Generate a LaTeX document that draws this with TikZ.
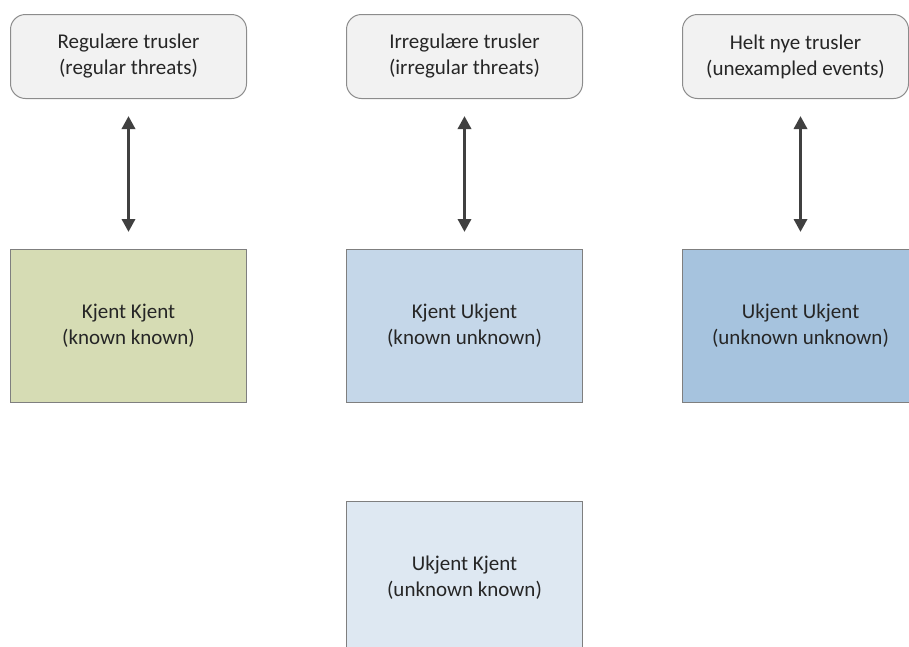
\documentclass[tikz,border=0pt]{standalone}
\usepackage{fontspec}
\setmainfont{Carlito}
\usetikzlibrary{arrows.meta}

\definecolor{threatfill}{HTML}{F2F2F2}
\definecolor{threatline}{HTML}{8C8C8C}
\definecolor{boxline}{HTML}{7F7F7F}
\definecolor{kkfill}{HTML}{D6DCB4}
\definecolor{kufill}{HTML}{C5D7E9}
\definecolor{uufill}{HTML}{A6C3DE}
\definecolor{ukfill}{HTML}{DEE8F2}
\definecolor{arrowgray}{HTML}{404040}

\tikzset{
  threat/.style={draw=threatline, fill=threatfill, line width=1pt,
    rounded corners=15pt, anchor=north west, inner sep=0pt,
    align=center, font=\fontsize{21}{26}\selectfont, text=black!85},
  field/.style={draw=boxline, line width=1pt, anchor=north west,
    inner sep=0pt, minimum width=236pt, minimum height=153pt,
    align=center, font=\fontsize{21}{26}\selectfont, text=black!85},
  link/.style={draw=arrowgray, line width=3.5pt,
    {Triangle[width=13pt,length=13pt]}-{Triangle[width=13pt,length=13pt]}}
}

\begin{document}
\begin{tikzpicture}[x=1pt, y=-1pt]
  \useasboundingbox (0,0) rectangle (909,646);
  \clip (0,0) rectangle (909,646);

  % threat categories
  \node[threat, minimum width=236pt, minimum height=84pt] (t1) at (10,14)
    {Regulære trusler\\(regular threats)};
  \node[threat, minimum width=236pt, minimum height=84pt] (t2) at (346,14)
    {Irregulære trusler\\(irregular threats)};
  \node[threat, minimum width=226pt, minimum height=84pt] (t3) at (682,14)
    {Helt nye trusler\\(unexampled events)};

  % knowledge fields
  \node[field, fill=kkfill] (m1) at (10,249) {Kjent Kjent\\(known known)};
  \node[field, fill=kufill] (m2) at (346,249) {Kjent Ukjent\\(known unknown)};
  \node[field, fill=uufill] (m3) at (682,249)
    {Ukjent Ukjent\\(unknown unknown)};
  \node[field, fill=ukfill] (b2) at (346,501) {Ukjent Kjent\\(unknown known)};

  % two-way links
  \draw[link] ([yshift=-17pt]t1.south) -- ([yshift=17pt]m1.north);
  \draw[link] ([yshift=-17pt]t2.south) -- ([yshift=17pt]m2.north);
  \draw[link] ([yshift=-17pt]t3.south -| m3.north) -- ([yshift=17pt]m3.north);
\end{tikzpicture}
\end{document}
